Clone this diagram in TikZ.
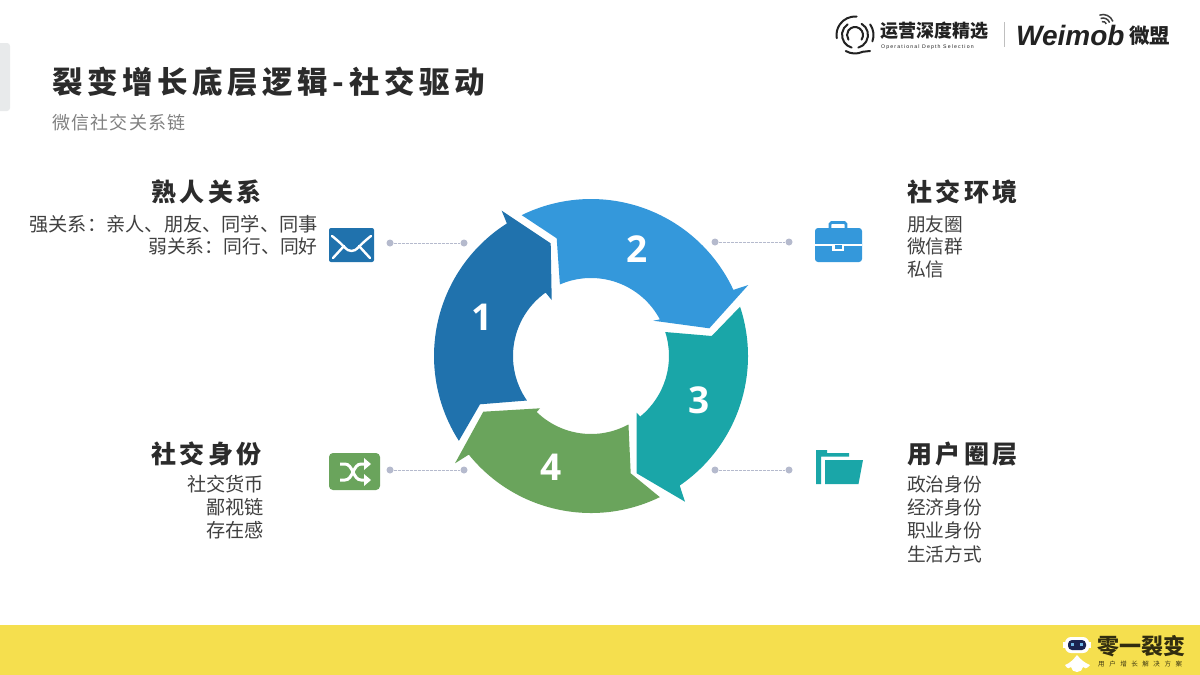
\documentclass[tikz,border=0pt]{standalone}
\usepackage{fontspec}
\setmainfont{Noto Sans CJK SC}
\newfontfamily\latinb{Liberation Sans}
\newfontfamily\numf{Open Sans}
\newcommand{\fsz}[1]{\fontsize{#1}{#1}\selectfont}
\definecolor{cA}{HTML}{2072AD}
\definecolor{cB}{HTML}{3498DB}
\definecolor{cC}{HTML}{1AA6A8}
\definecolor{cD}{HTML}{6AA45C}
\definecolor{dotc}{HTML}{B5BACD}
\definecolor{ink}{HTML}{2B2B2B}
\definecolor{body}{HTML}{404040}
\definecolor{band}{HTML}{F5DF4E}
\definecolor{tabc}{HTML}{E8EAEB}
\definecolor{logoc}{HTML}{222222}
\definecolor{navy}{HTML}{1B2350}
\tikzset{
  x=1pt,y=-1pt,
  segm/.style={line join=miter},
  numlab/.style={text=white,font=\numf\bfseries\fsz{37},inner sep=0pt},
  headl/.style={anchor=west,inner sep=0pt,text=ink,font=\bfseries\fsz{25}\addfontfeature{LetterSpace=14}},
  headr/.style={anchor=east,inner sep=0pt,text=ink,font=\bfseries\fsz{25}\addfontfeature{LetterSpace=14}},
  listl/.style={anchor=west,inner sep=0pt,text=body,font=\fsz{18.7}},
  listr/.style={anchor=east,inner sep=0pt,text=body,font=\fsz{19.2}},
  pin/.style={circle,fill=dotc,inner sep=0pt,minimum size=7pt},
  lead/.style={draw=dotc,line width=1pt,dash pattern=on 3pt off 1pt},
  iconw/.style={draw=white,line width=2.4pt,line cap=round},
  logot/.style={inner sep=0pt,text=logoc},
  logol/.style={draw=logoc,line width=2pt,line cap=round},
}
\begin{document}
\begin{tikzpicture}
\useasboundingbox (0,0) rectangle (1200,675);
\fill[white] (0,0) rectangle (1200,675);
% side tab and footer band
\fill[tabc,rounded corners=3pt] (-8,43) rectangle (10,111);
\fill[band] (0,625) rectangle (1200,675);
% title
\node[anchor=west,inner sep=0pt,text=ink] (title) at (52,82) {\bfseries\fsz{30.5}\addfontfeature{LetterSpace=15}裂变增长底层逻辑-社交驱动};
\node[anchor=west,inner sep=0pt,text=gray] (subtitle) at (52,123) {\fsz{18}\addfontfeature{LetterSpace=7}微信社交关系链};
% ring
\begin{scope}[shift={(591,356)},y=1pt]
\fill[cA,segm] (212.7:157) arc[start angle=212.7,end angle=122.4,radius=157]
  -- (-89.3,145.3) -- (-40.3,112.7) -- (-39.3,56) -- (125.6:78)
  arc[start angle=125.6,end angle=214.8,radius=78] -- (-111,-48.3) -- cycle;
\fill[cB,segm] (116.2:157) arc[start angle=116.2,end angle=24.9,radius=157]
  -- (157.3,71) -- (118.3,27.7) -- (62.3,35.3) -- (28:78)
  arc[start angle=28,end angle=113.5,radius=78] -- (-34.3,117.7) -- cycle;
\fill[cC,segm] (18.3:157) arc[start angle=18.3,end angle=-55.6,radius=157]
  -- (94,-145.7) -- (45.7,-117.3) -- (45.7,-56.7) -- (-50.9:78)
  arc[start angle=-50.9,end angle=17.9,radius=78] -- (120.7,20) -- cycle;
\fill[cD,segm] (-64:157) arc[start angle=-64,end angle=-141.1,radius=157]
  -- (-136,-107.3) -- (-107.7,-55.7) -- (-51,-52.3) -- (-134.1:78)
  arc[start angle=-134.1,end angle=-61.3,radius=78] -- (39.7,-117.3) -- cycle;
\end{scope}
\node[numlab] (n1) at (482,317) {1};
\node[numlab] (n2) at (637,249) {2};
\node[numlab] (n3) at (699,400) {3};
\node[numlab] (n4) at (551,467) {4};
% leaders
\node[pin] (p1a) at (390,243) {};
\node[pin] (p1b) at (464,243) {};
\node[pin] (p2a) at (715,242) {};
\node[pin] (p2b) at (789,242) {};
\node[pin] (p3a) at (715,470) {};
\node[pin] (p3b) at (789,470) {};
\node[pin] (p4a) at (390,470) {};
\node[pin] (p4b) at (464,470) {};
\draw[lead] (p1a) -- (p1b);
\draw[lead] (p2a) -- (p2b);
\draw[lead] (p3a) -- (p3b);
\draw[lead] (p4a) -- (p4b);
% envelope
\fill[cA,rounded corners=2pt] (329,228) rectangle (374,262);
\draw[iconw] (332,236) .. controls (345,246) and (346,251) .. (351.5,251) .. controls (357,251) and (358,246) .. (371,236);
\draw[iconw] (333,258) -- (344,246);
\draw[iconw] (370,258) -- (359,246);
% briefcase
\draw[cB,line width=2.6pt,rounded corners=1.5pt] (830,228) -- (830,222.5) -- (846,222.5) -- (846,228);
\fill[cB,rounded corners=3pt] (815,228) rectangle (862,262);
\fill[white] (815,243.5) rectangle (862,245.5);
\fill[white] (832,245) rectangle (844,251);
\fill[cB] (834.5,245) rectangle (841.5,249);
% folder
\fill[cC] (816,450) -- (827,450) -- (827,453) -- (849,453) -- (849,456.5) -- (821,456.5) -- (821,484) -- (816,484) -- cycle;
\fill[cC] (825,460) -- (863,460) -- (858.5,484) -- (825,484) -- cycle;
% shuffle
\fill[cD,rounded corners=4pt] (329,453) rectangle (380,490);
\draw[white,line width=3pt] (340,464) -- (345,464) .. controls (353,464) and (353,480) .. (361,480) -- (366,480);
\draw[white,line width=3pt] (340,480) -- (345,480) .. controls (353,480) and (353,464) .. (361,464) -- (366,464);
\fill[white] (364,458) -- (371,464) -- (364,470) -- cycle;
\fill[white] (364,474) -- (371,480) -- (364,486) -- cycle;
% texts top left
\node[headr] (h1) at (262,192) {熟人关系};
\node[listr] (t1a) at (318,224) {强关系：\hspace{-4pt} 亲人、朋友、同学、同事};
\node[listr] (t1b) at (318,246) {\fsz{18.8}弱关系：\hspace{-4pt} 同行、同好};
% top right
\node[headl] (h2) at (907,192) {社交环境};
\node[listl] (t2a) at (907,224) {朋友圈};
\node[listl] (t2b) at (907,246) {微信群};
\node[listl] (t2c) at (907,269) {私信};
% bottom left
\node[headr] (h4) at (262,454) {社交身份};
\node[listr] (t4a) at (264,484) {社交货币};
\node[listr] (t4b) at (264,507) {鄙视链};
\node[listr] (t4c) at (264,530) {存在感};
% bottom right
\node[headl] (h3) at (907,454) {用户圈层};
\node[listl] (t3a) at (907,484) {政治身份};
\node[listl] (t3b) at (907,507) {经济身份};
\node[listl] (t3c) at (907,530) {职业身份};
\node[listl] (t3d) at (907,554) {生活方式};
% top logo
\begin{scope}[shift={(855,35)},y=1pt]
\draw[logol] (-35:8) arc[start angle=-35,end angle=215,radius=8];
\draw[logol] (125:13) arc[start angle=125,end angle=255,radius=13];
\draw[logol] (60:13) arc[start angle=60,end angle=-75,radius=13];
\draw[logol] (85:18.5) arc[start angle=85,end angle=190,radius=18.5];
\draw[logol] (35:18.5) arc[start angle=35,end angle=-20,radius=18.5];
\draw[logol] (240:18.5) arc[start angle=240,end angle=295,radius=18.5] -- (15,-16);
\end{scope}
\node[logot,anchor=west] (lg1) at (880,31) {\bfseries\fsz{18}运营深度精选};
\node[logot,anchor=west] (lg2) at (881,47) {\latinb\fsz{5.2}\addfontfeature{LetterSpace=22}Operational Depth Selection};
\draw[gray!50,line width=.8pt] (1004,22) -- (1004,47);
\node[logot,anchor=west] (lg3) at (1016,35) {\latinb\bfseries\itshape\fsz{28}Weimob};
\node[logot,anchor=west] (lg4) at (1129,36) {\bfseries\fsz{20.5}微盟};
\begin{scope}[shift={(1103,25)},y=1pt]
\draw[gray!50!black,line width=1.5pt] (20:3.5) arc[start angle=20,end angle=110,radius=3.5];
\draw[gray!50!black,line width=1.5pt] (20:7) arc[start angle=20,end angle=110,radius=7];
\draw[gray!50!black,line width=1.5pt] (20:10.5) arc[start angle=20,end angle=110,radius=10.5];
\end{scope}
% bottom logo
\fill[white] (1077,655) .. controls (1081,660) and (1085,663) .. (1090,665) .. controls (1087,669) and (1084,669) .. (1083,667) .. controls (1083,670) and (1080,672) .. (1077,672) .. controls (1074,672) and (1071,670) .. (1071,667) .. controls (1070,669) and (1067,669) .. (1065,665) .. controls (1070,663) and (1073,660) .. (1077,655) -- cycle;
\fill[white,rounded corners=6pt] (1065,637) rectangle (1089,653);
\fill[white] (1063,642) rectangle (1091,648);
\fill[navy,rounded corners=4pt] (1068,640) rectangle (1086,650);
\fill[cB!70!white] (1071,643) rectangle (1074,645.5);
\fill[cB!70!white] (1080,643) rectangle (1083,645.5);
\node[logot,anchor=west,text=black!80!band] (lg5) at (1097,646) {\bfseries\fsz{22}零一裂变};
\node[logot,anchor=west,text=black!75!band] (lg6) at (1098,664) {\fsz{6.5}\addfontfeature{LetterSpace=70}用户增长解决方案};
\end{tikzpicture}
\end{document}
